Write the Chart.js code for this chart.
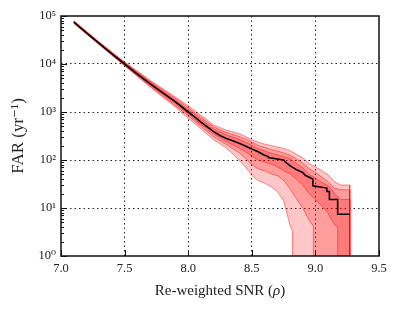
<!DOCTYPE html>
<html lang="en">
<head>
    <meta charset="UTF-8">
    <title>FAR vs re-weighted SNR</title>
    <script src="https://cdn.jsdelivr.net/npm/chart.js"></script>
    <style>
        html, body {
            margin: 0;
            padding: 0;
            background: #ffffff;
        }
        #farChart {
            display: block;
        }
    </style>
</head>
<body>

<canvas id="farChart" width="399" height="309"></canvas>

<script>
    // central FAR curve (black step line)
    var rho = [7.10, 7.20, 7.30, 7.40, 7.50, 7.60, 7.70, 7.80, 7.90, 8.00, 8.05, 8.10, 8.15, 8.20, 8.25, 8.30, 8.35, 8.40, 8.45, 8.50,
               8.55, 8.60, 8.63, 8.63, 8.75, 8.76, 8.80, 8.85, 8.90, 8.92, 8.98, 8.98, 9.09, 9.09, 9.11, 9.11, 9.175, 9.175, 9.27];
    var far = [75000, 44700, 26900, 16200, 10000, 6170, 3890, 2510, 1620, 1000, 794, 617, 490, 389, 324, 282, 251, 224, 195, 170,
               148, 126, 118, 112, 100, 93, 76, 63, 55, 48, 40, 29, 26, 22, 22, 15, 15, 7.4, 7.4];

    // upper edges of the three shaded bands
    var bandRho = [7.10, 7.30, 7.50, 7.70, 7.90, 8.00, 8.10, 8.20, 8.30, 8.40, 8.45, 8.50, 8.55, 8.60, 8.65, 8.70, 8.75, 8.80,
                   8.85, 8.90, 8.95, 9.00, 9.05, 9.10, 9.15, 9.20, 9.27];
    var hi1 = [76700, 27500, 10350, 4170, 1778, 1122, 708, 437, 331, 269, 234, 204, 170, 155, 138, 129, 117, 107,
               85, 69, 50, 42, 34, 29, 20, 15, 15];
    var hi2 = [78500, 28200, 10700, 4370, 1910, 1230, 776, 490, 372, 309, 275, 234, 200, 182, 166, 155, 141, 126,
               105, 87, 66, 55, 44, 35, 26, 24, 24];
    var hi3 = [80400, 28800, 11000, 4570, 2040, 1350, 851, 537, 417, 355, 309, 263, 234, 214, 200, 186, 174, 158,
               132, 110, 85, 72, 60, 49, 35, 30, 30];

    // lower edges (each drops off the axis at its own SNR)
    var lo1Rho = [7.10, 7.30, 7.50, 7.70, 7.90, 8.00, 8.10, 8.20, 8.30, 8.40, 8.45, 8.50, 8.55, 8.60, 8.65, 8.70, 8.75, 8.80,
                  8.85, 8.90, 8.95, 9.00, 9.05, 9.10, 9.15, 9.175, 9.175];
    var lo1 = [73300, 26300, 9660, 3630, 1480, 912, 550, 347, 240, 178, 148, 120, 100, 91, 83, 72, 60, 52,
               40, 30, 20, 15, 11.2, 7.8, 4.5, 4.0, 0.1];
    var lo2Rho = [7.10, 7.30, 7.50, 7.70, 7.90, 8.00, 8.10, 8.20, 8.30, 8.40, 8.45, 8.50, 8.55, 8.60, 8.65, 8.70, 8.75, 8.80,
                  8.85, 8.90, 8.95, 8.984, 8.984];
    var lo2 = [71600, 25700, 9440, 3470, 1350, 832, 501, 302, 209, 141, 110, 79, 66, 59, 52, 47, 38, 25,
               15.8, 10, 5.6, 4.2, 0.1];
    var lo3Rho = [7.10, 7.30, 7.50, 7.70, 7.90, 8.00, 8.10, 8.20, 8.30, 8.40, 8.45, 8.50, 8.55, 8.60, 8.65, 8.70, 8.75, 8.80,
                  8.82, 8.82];
    var lo3 = [70000, 25100, 9120, 3310, 1260, 741, 447, 263, 178, 100, 71, 48, 37, 33, 28, 22, 14, 4.5,
               3.2, 0.1];

    var xTicks = [7.0, 7.5, 8.0, 8.5, 9.0, 9.5];
    var yDecades = [1, 10, 100, 1000, 10000, 100000];

    var sup = {'0': '\u2070', '1': '\u00b9', '2': '\u00b2', '3': '\u00b3', '4': '\u2074', '5': '\u2075'};
    var serif = "'Liberation Serif', 'DejaVu Serif', serif";

    function bandShape(hi, loX, lo) {
        var pts = [];
        for (var i = 0; i < bandRho.length; i++) pts.push({x: bandRho[i], y: hi[i]});
        pts.push({x: bandRho[bandRho.length - 1], y: 0.1});
        for (var j = loX.length - 1; j >= 0; j--) pts.push({x: loX[j], y: lo[j]});
        return pts;
    }

    function bandDataset(hi, loX, lo, order) {
        return {
            data: bandShape(hi, loX, lo),
            order: order,
            fill: 'shape',
            backgroundColor: 'rgba(255, 0, 0, 0.22)',
            borderColor: 'rgba(255, 0, 0, 0.45)',
            borderWidth: 1,
            pointRadius: 0,
            tension: 0
        };
    }

    var curve = rho.map(function (x, i) { return {x: x, y: far[i]}; });

    var isDecade = function (v) { return yDecades.indexOf(v) >= 0; };

    var framePlugin = {
        id: 'frame',
        afterDraw: function (chart) {
            var ctx = chart.ctx;
            var a = chart.chartArea;
            var ys = chart.scales.y;
            var xs = chart.scales.x;
            ctx.save();
            ctx.strokeStyle = '#111';
            ctx.lineWidth = 1;
            // inside ticks on the log axis
            ys.ticks.forEach(function (t) {
                var py = Math.round(ys.getPixelForValue(t.value)) + 0.5;
                var len = isDecade(t.value) ? 6 : 3;
                ctx.beginPath();
                ctx.moveTo(a.left, py);
                ctx.lineTo(a.left + len, py);
                ctx.stroke();
            });
            xTicks.forEach(function (v) {
                var px = Math.round(xs.getPixelForValue(v)) + 0.5;
                ctx.beginPath();
                ctx.moveTo(px, a.bottom);
                ctx.lineTo(px, a.bottom - 6);
                ctx.stroke();
            });
            ctx.lineWidth = 1.5;
            ctx.strokeRect(a.left, a.top, a.right - a.left, a.bottom - a.top);

            // axis titles
            ctx.fillStyle = '#222';
            ctx.textBaseline = 'middle';
            var xText = 'Re-weighted SNR (';
            ctx.font = '15px ' + serif;
            var w1 = ctx.measureText(xText).width;
            ctx.font = 'italic 15px ' + serif;
            var w2 = ctx.measureText('\u03c1').width;
            ctx.font = '15px ' + serif;
            var w3 = ctx.measureText(')').width;
            var cx = (a.left + a.right) / 2;
            var x0 = cx - (w1 + w2 + w3) / 2;
            ctx.textAlign = 'left';
            ctx.fillText(xText, x0, 291);
            ctx.font = 'italic 15px ' + serif;
            ctx.fillText('\u03c1', x0 + w1, 291);
            ctx.font = '15px ' + serif;
            ctx.fillText(')', x0 + w1 + w2, 291);

            ctx.translate(19, (a.top + a.bottom) / 2);
            ctx.rotate(-Math.PI / 2);
            ctx.textAlign = 'center';
            ctx.font = '17px ' + serif;
            ctx.fillText('FAR (yr\u207b\u00b9)', 0, 0);
            ctx.restore();
        }
    };

    var chart = new Chart(document.getElementById('farChart').getContext('2d'), {
        type: 'line',
        data: {
            datasets: [
                bandDataset(hi3, lo3Rho, lo3, 3),
                bandDataset(hi2, lo2Rho, lo2, 2),
                bandDataset(hi1, lo1Rho, lo1, 1),
                {
                    data: curve,
                    order: 0,
                    borderColor: '#000',
                    borderWidth: 1.6,
                    pointRadius: 0,
                    fill: false,
                    tension: 0
                }
            ]
        },
        options: {
            responsive: false,
            animation: false,
            devicePixelRatio: 1,
            layout: {padding: {top: 16, right: 20, left: 0, bottom: 0}},
            plugins: {legend: {display: false}, tooltip: {enabled: false}},
            scales: {
                x: {
                    type: 'linear',
                    min: 7.0,
                    max: 9.5,
                    z: 1,
                    afterBuildTicks: function (s) { s.ticks = xTicks.map(function (v) { return {value: v}; }); },
                    afterFit: function (s) { s.height = 53; },
                    ticks: {
                        padding: 5,
                        color: '#222',
                        font: {family: serif, size: 12.5},
                        callback: function (v) { return Number(v).toFixed(1); }
                    },
                    grid: {
                        drawTicks: false,
                        lineWidth: 1,
                        color: function (c) {
                            var v = c.tick ? c.tick.value : null;
                            return (v > 7.0 && v < 9.5) ? '#222' : 'rgba(0,0,0,0)';
                        }
                    },
                    border: {display: false, dash: [1.5, 3]}
                },
                y: {
                    type: 'logarithmic',
                    min: 1,
                    max: 100000,
                    z: 1,
                    afterBuildTicks: function (s) {
                        var t = [];
                        for (var d = 0; d < yDecades.length; d++) {
                            for (var m = 1; m <= 9; m++) {
                                var v = yDecades[d] * m;
                                if (v <= 100000) t.push({value: v});
                            }
                        }
                        s.ticks = t;
                    },
                    afterFit: function (s) { s.width = 61; },
                    ticks: {
                        autoSkip: false,
                        padding: 5,
                        color: '#222',
                        font: {family: serif, size: 12.5},
                        callback: function (v) {
                            if (!isDecade(v)) return '';
                            var e = String(Math.round(Math.log10(v)));
                            return '10' + sup[e];
                        }
                    },
                    grid: {
                        drawTicks: false,
                        lineWidth: 1,
                        color: function (c) {
                            var v = c.tick ? c.tick.value : null;
                            return (v > 1 && v < 100000 && isDecade(v)) ? '#222' : 'rgba(0,0,0,0)';
                        }
                    },
                    border: {display: false, dash: [1.5, 3]}
                }
            }
        },
        plugins: [framePlugin]
    });
</script>

</body>
</html>
